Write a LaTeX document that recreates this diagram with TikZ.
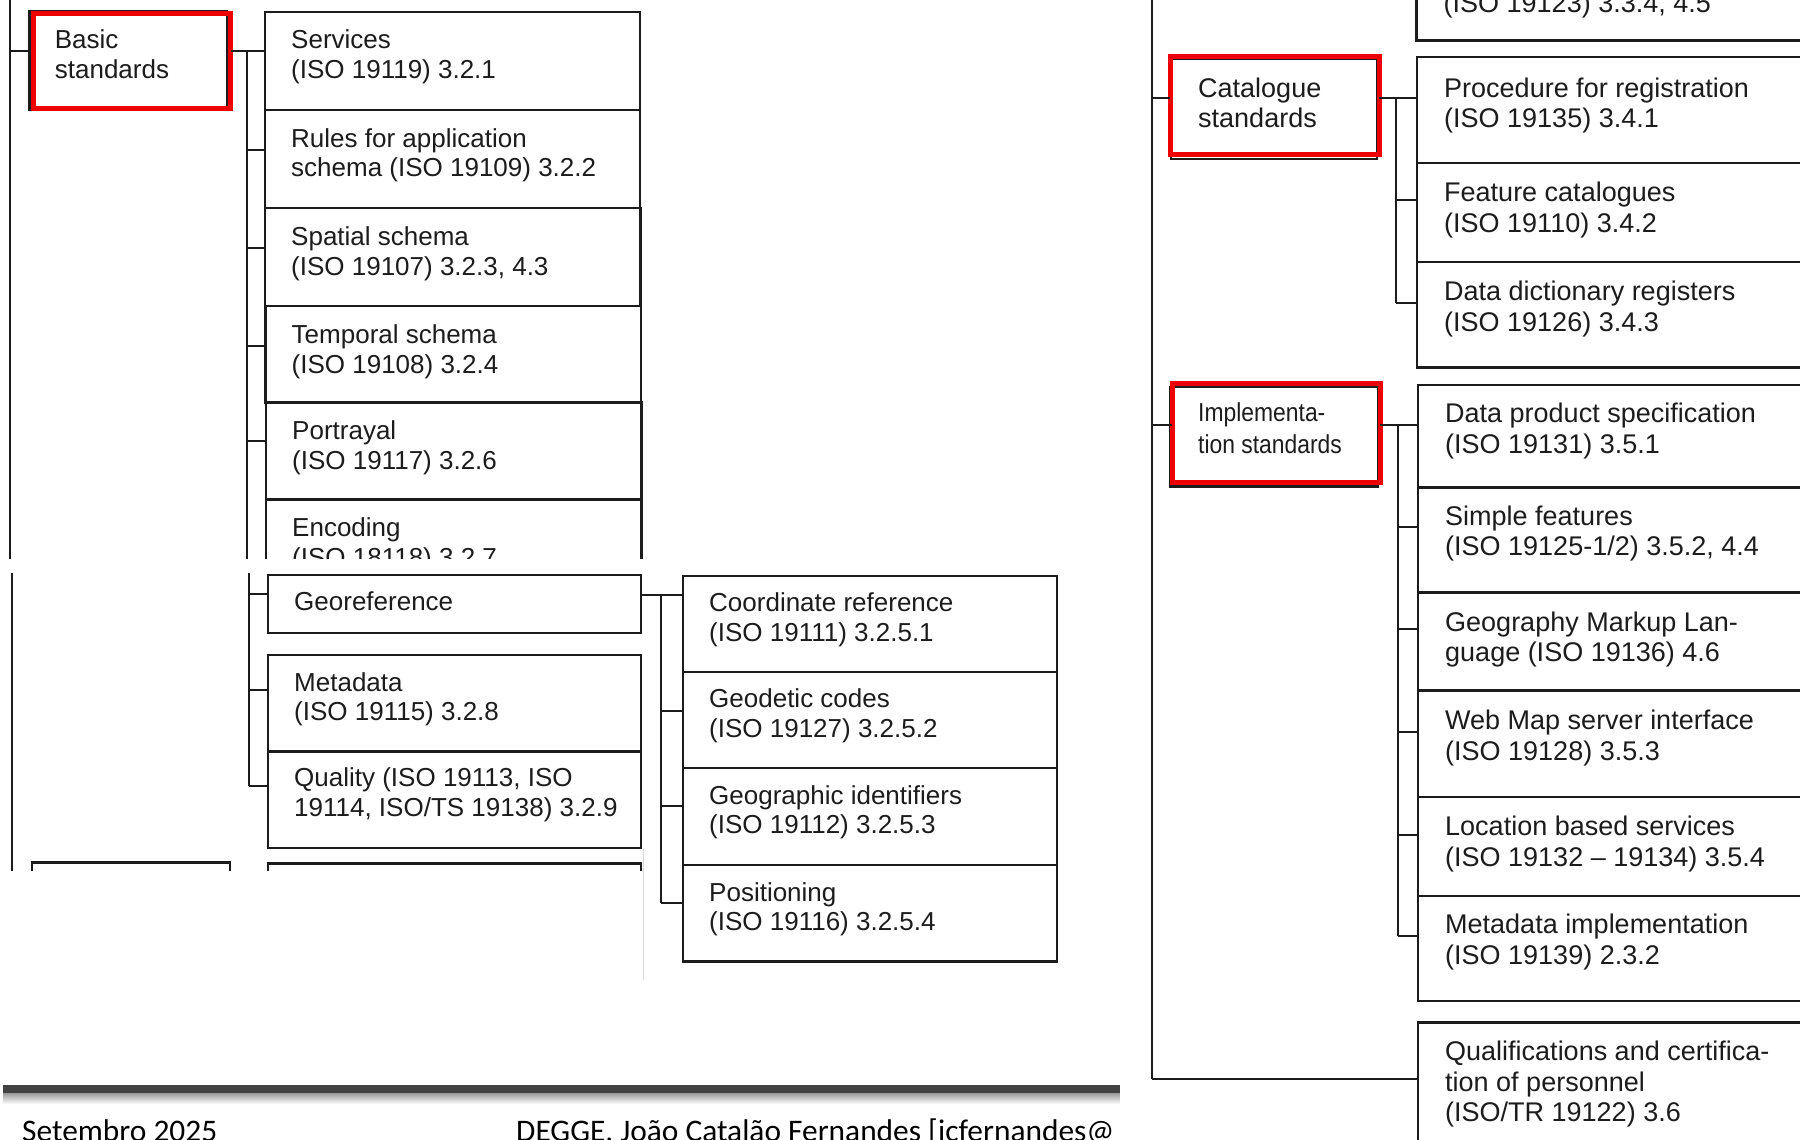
\documentclass[tikz,border=0pt]{standalone}
\usepackage{fontspec}
\setmainfont{Liberation Sans}
\newfontfamily\footfont{Carlito}
\newfontfamily\narrowfont[FakeStretch=0.88]{Liberation Sans}
\usetikzlibrary{calc}
\definecolor{ink}{RGB}{28,28,28}
\definecolor{hred}{RGB}{238,0,0}
\definecolor{barc}{RGB}{66,66,66}
\tikzset{
  box/.style={draw=ink, line width=2.3pt, anchor=north west, inner sep=0pt, outer sep=0pt},
  shadowbox/.style={draw=ink, line width=2.3pt, anchor=north west, inner sep=0pt, outer sep=0pt},
  redbox/.style={draw=hred, line width=5pt, anchor=north west, inner sep=0pt, outer sep=0pt},
  wire/.style={draw=ink, line width=2pt},
  txt/.style={anchor=base west, inner sep=0pt, text=ink, font=\fontsize{26}{29.6}\selectfont},
  foot/.style={anchor=base west, inner sep=0pt, text=black, font=\footfont\fontsize{31.4}{36}\selectfont},
}
\newcommand{\tdx}{26}
\newcommand{\mkbox}[7]{%
  \node[box, minimum width=#4, minimum height=#5] (#1) at (#2,#3) {};
  \node[txt] (#1-t) at ($(#1.north west)+(\tdx,#6)$) {\parbox[t]{15cm}{#7}};}

\begin{document}
\begin{tikzpicture}[x=1pt,y=-1pt]
\useasboundingbox (0,0) rectangle (1800,1140);
\fill[white] (0,0) rectangle (1800,1140);
\clip (0,0) rectangle (1800,1140);

% ---------------- upper left piece
\begin{scope}
\clip (0,0) rectangle (1120,558.6);
\coordinate (trunkA) at (9.5,-5);
\coordinate (trunkAend) at (9.5,570);
\draw[wire] (trunkA) -- (trunkAend);
\node[shadowbox, minimum width=197.5, minimum height=99] (basicK) at (29.5,11) {};
\node[redbox, minimum width=197.6, minimum height=94] (basic) at (33,14) {};
\node[txt] (basic-t) at (54.7,48.8) {\parbox[t]{6cm}{Basic\\standards}};
\mkbox{serv}{265}{11.8}{375}{98.1}{37}{Services\\(ISO 19119) 3.2.1}
\mkbox{rules}{265}{109.9}{375}{98.4}{37.3}{Rules for application\\schema (ISO 19109) 3.2.2}
\mkbox{spat}{265}{208.3}{375.5}{98}{37.3}{Spatial schema\\(ISO 19107) 3.2.3, 4.3}
\mkbox{temp}{265.5}{306.3}{375.5}{96.2}{37.3}{Temporal schema\\(ISO 19108) 3.2.4}
\mkbox{portr}{266}{402.5}{375.5}{96.9}{37.3}{Portrayal\\(ISO 19117) 3.2.6}
\mkbox{enc}{266}{499.4}{375.5}{100}{37.3}{Encoding\\(ISO 18118) 3.2.7}
\coordinate (jb) at (9.5,51);
\draw[wire] (jb) -- (jb -| basicK.west);
\draw[wire] (jb -| basic.east) -- (jb -| serv.west);
\coordinate (bb) at (247,51);
\coordinate (bbend) at (247,570);
\draw[wire] (bb) -- (bbend);
\foreach \n/\yy in {rules/149.8, spat/247.9, temp/345.9, portr/441.4}
  \draw[wire] (247,\yy) -- (\n.west |- 0,\yy);
\end{scope}

% ---------------- lower left piece
\begin{scope}
\clip (0,573.3) rectangle (1120,1140);
\coordinate (trunkB) at (12,573.3);
\coordinate (trunkBend) at (12,870.7);
\draw[wire] (trunkB) -- (trunkBend);
\coordinate (cb) at (248.6,573.3);
\coordinate (cbend) at (248.6,785.7);
\draw[wire] (cb) -- (cbend);
\mkbox{geo}{268}{574.8}{373}{58.1}{35.2}{Georeference}
\mkbox{meta}{268}{655}{373}{96.6}{36}{Metadata\\(ISO 19115) 3.2.8}
\mkbox{qual}{268}{751.6}{373}{96.2}{35}{Quality (ISO 19113, ISO\\19114, ISO/TS 19138) 3.2.9}
\foreach \n/\yy in {geo/594, meta/689.5, qual/785.7}
  \draw[wire] (248.6,\yy) -- (\n.west |- 0,\yy);
\mkbox{coord}{683}{575.9}{374}{95.8}{36}{Coordinate reference\\(ISO 19111) 3.2.5.1}
\mkbox{geod}{683}{671.7}{374}{96.6}{36}{Geodetic codes\\(ISO 19127) 3.2.5.2}
\mkbox{geoid}{683}{768.3}{374}{96.9}{36}{Geographic identifiers\\(ISO 19112) 3.2.5.3}
\mkbox{posi}{683}{865.2}{374}{96.2}{36}{Positioning\\(ISO 19116) 3.2.5.4}
\draw[wire] (geo.east |- 0,595) -- (coord.west |- 0,595);
\coordinate (gb) at (661.4,595);
\coordinate (gbend) at (661.4,903);
\draw[wire] (gb) -- (gbend);
\foreach \n/\yy in {geod/710.6, geoid/806, posi/903}
  \draw[wire] (661.4,\yy) -- (\n.west |- 0,\yy);
\begin{scope}
\clip (0,0) rectangle (660,870.7);
\node[box, minimum width=198, minimum height=60] (nextA) at (32,862.6) {};
\node[box, minimum width=373, minimum height=60] (nextB) at (268,863.4) {};
\end{scope}
\draw[black!15, line width=1pt] (643,848.6) -- (643,980);
\end{scope}

% ---------------- footer
\fill[barc] (3,1085) rectangle (1120,1093);
\shade[top color=black!40, bottom color=white] (3,1093) rectangle (1120,1104);
\node[foot] (date) at (22,1141) {Setembro 2025};
\node[foot] (author) at (516,1141) {DEGGE, João Catalão Fernandes [jcfernandes@};

% ---------------- right piece
\fill[white] (1120,0) rectangle (1800,1140);
\begin{scope}
\tikzset{txt/.style={anchor=base west, inner sep=0pt, text=ink, font=\fontsize{27}{30.6}\selectfont}}
\renewcommand{\tdx}{27}
\coordinate (rtop) at (1152,-5);
\coordinate (rbot) at (1152,1079);
\draw[wire] (rtop) -- (rbot);
\mkbox{cov}{1416.5}{-100}{500}{140.5}{113}{(ISO 19123) 3.3.4, 4.5}
% catalogue
\node[shadowbox, minimum width=206, minimum height=100] (catK) at (1171,59) {};
\node[redbox, minimum width=209, minimum height=98.4] (cat) at (1170,56.2) {};
\node[txt] (cat-t) at (1198,97) {\parbox[t]{6cm}{Catalogue\\standards}};
\mkbox{proc}{1417}{57.3}{500}{105.5}{39.7}{Procedure for registration\\(ISO 19135) 3.4.1}
\mkbox{feat}{1417}{162.8}{500}{99.2}{38.8}{Feature catalogues\\(ISO 19110) 3.4.2}
\mkbox{ddict}{1417}{262}{500}{105.4}{38.4}{Data dictionary registers\\(ISO 19126) 3.4.3}
\coordinate (jc) at (1152,98);
\draw[wire] (jc) -- (jc -| cat.west);
\draw[wire] (jc -| cat.east) -- (jc -| proc.west);
\coordinate (cc) at (1396.2,98);
\coordinate (ccend) at (1396.2,302.6);
\draw[wire] (cc) -- (ccend);
\foreach \n/\yy in {feat/200, ddict/302.6}
  \draw[wire] (1396.2,\yy) -- (\n.west |- 0,\yy);
% implementation
\node[shadowbox, minimum width=208, minimum height=99.5] (implK) at (1170,387) {};
\node[redbox, minimum width=208, minimum height=98.7] (impl) at (1172,383.3) {};
\node[txt, font=\narrowfont\fontsize{26}{31.2}\selectfont] (impl-t) at (1198,421.8) {\parbox[t]{6cm}{Implementa-\\tion standards}};
\mkbox{dps}{1418}{384.8}{500}{102.8}{38}{Data product specification\\(ISO 19131) 3.5.1}
\mkbox{simp}{1418}{487.6}{500}{105}{37.5}{Simple features\\(ISO 19125-1/2) 3.5.2, 4.4}
\mkbox{gml}{1418}{592.6}{500}{98}{38.4}{Geography Markup Lan-\\guage (ISO 19136) 4.6}
\mkbox{wms}{1418}{690.6}{500}{106.2}{39}{Web Map server interface\\(ISO 19128) 3.5.3}
\mkbox{lbs}{1418}{796.8}{500}{99.1}{38.8}{Location based services\\(ISO 19132 – 19134) 3.5.4}
\mkbox{mdi}{1418}{895.9}{500}{105.1}{38}{Metadata implementation\\(ISO 19139) 2.3.2}
\mkbox{qualc}{1418}{1022.5}{500}{200}{38}{Qualifications and certifica-\\tion of personnel\\(ISO/TR 19122) 3.6}
\coordinate (ji) at (1152,424.7);
\draw[wire] (ji) -- (ji -| impl.west);
\draw[wire] (ji -| impl.east) -- (ji -| dps.west);
\coordinate (ic) at (1397.5,424.7);
\coordinate (icend) at (1397.5,936.2);
\draw[wire] (ic) -- (icend);
\foreach \n/\yy in {simp/527.2, gml/629.2, wms/732, lbs/834.5, mdi/936.2}
  \draw[wire] (1397.5,\yy) -- (\n.west |- 0,\yy);
\draw[wire] (rbot) -- (rbot -| qualc.west);
\end{scope}
\end{tikzpicture}
\end{document}
